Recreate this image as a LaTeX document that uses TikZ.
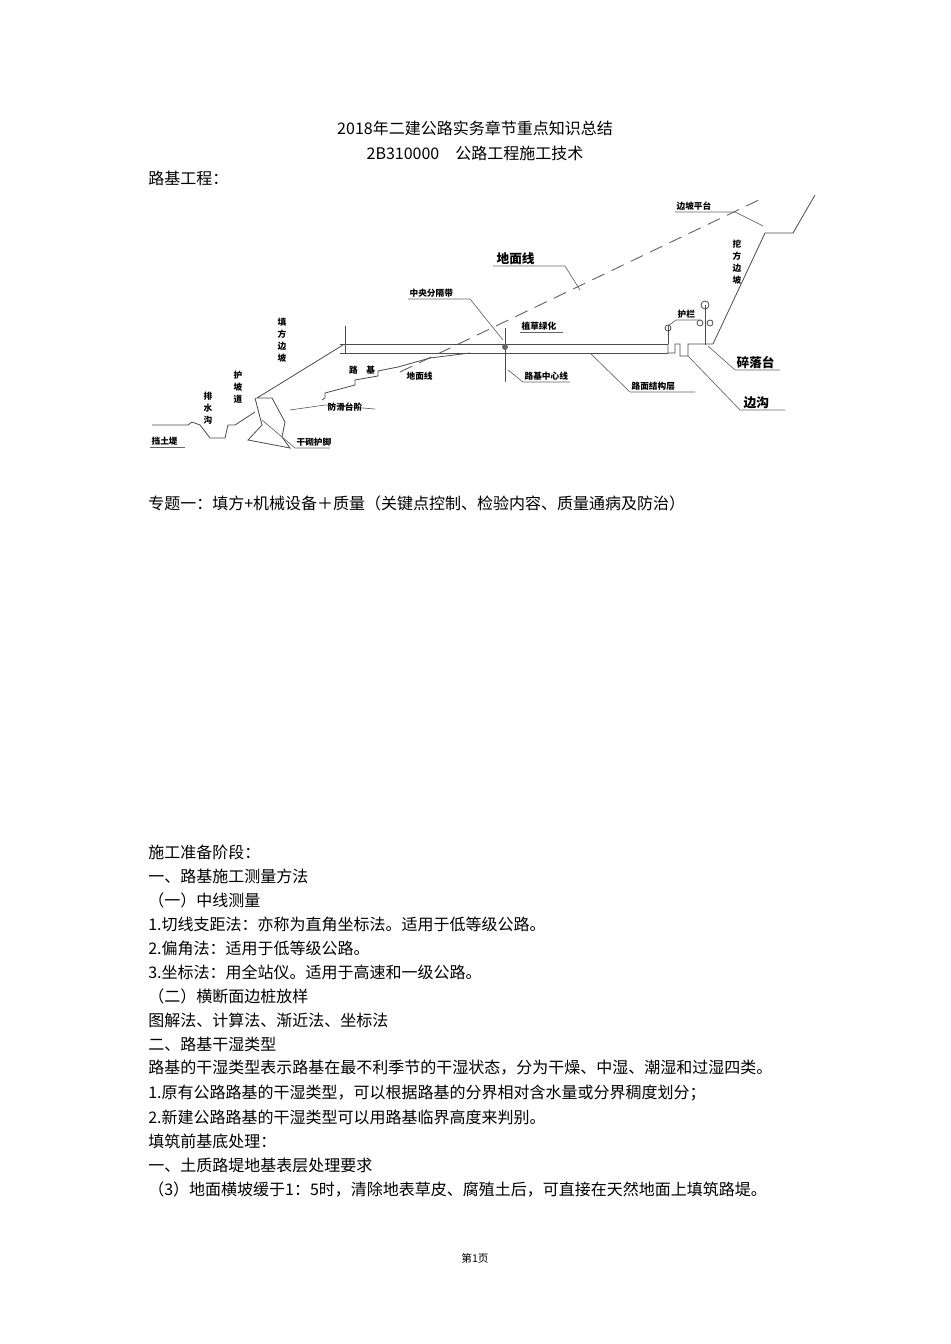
\documentclass[tikz,border=0pt]{standalone}
\usepackage{fontspec}
\setmainfont{Liberation Serif}
\newfontfamily\cjk{Noto Sans CJK SC}
\begin{document}
\begin{tikzpicture}[x=0.75pt,y=-0.75pt,
  body/.style={anchor=west,font=\cjk\fontsize{12}{13}\selectfont,inner sep=0},
  lab/.style={font=\cjk\bfseries\fontsize{6.5}{7}\selectfont,inner sep=1pt},
  labb/.style={font=\cjk\bfseries\fontsize{9.5}{10}\selectfont,inner sep=1pt},
  vlab/.style={font=\cjk\bfseries\fontsize{6.5}{9}\selectfont,align=center,inner sep=0},
  ln/.style={draw=black!70,line width=0.6pt},
  lead/.style={draw=black!60,line width=0.5pt}]
\useasboundingbox[fill=white] (0,0) rectangle (950,1344);
% header text
\node[font=\cjk\fontsize{12}{13}\selectfont] (t1) at (475,128) {2018年二建公路实务章节重点知识总结};
\node[font=\cjk\fontsize{12}{13}\selectfont] (t2) at (475,153) {2B310000\quad 公路工程施工技术};
\node[body] (t3) at (148,178) {路基工程：};
% ---- diagram ----
\draw[ln] (340,344) -- (668,344);
\draw[ln] (340,353) -- (668,353);
\draw[ln] (345,326) -- (345,353);
\draw[ln] (505,328) -- (505,382);
\fill[black!60] (505,347) circle (3);
\draw[ln] (668,344) -- (668,353) -- (675,353) -- (675,344) -- (680,344) -- (680,356) -- (688,356) -- (688,344) -- (713,344) -- (765,233) -- (793,233) -- (815,195);
\draw[ln] (668,344) -- (668,326);
\draw[ln] (668,328) circle (3);
\draw[ln] (705,345) -- (705,305);
\draw[ln] (705,305) circle (4);
\draw[ln] (700,323) circle (3) (710,323) circle (3);
\draw[draw=black!60,line width=0.7pt,dash pattern=on 10pt off 6pt] (400,372) -- (765,197);
\draw[ln] (343,345) -- (257,398) -- (272,398) -- (285,422) -- (282,437) -- (290,448) -- (248,440) -- (262,425) -- (255,398);
\draw[ln] (255,412) -- (235,425) -- (228,425) -- (225,438) -- (210,438) -- (200,425) -- (192,422) -- (188,425) -- (152,425);
\draw[ln] (322,400) -- (325,398) -- (325,393) -- (355,385) -- (355,380) -- (378,376) -- (378,371) -- (398,367) -- (430,358) -- (470,353);
% leaders
\draw[lead] (675,212) -- (735,212) -- (763,226);
\node[lab,anchor=south west] (bptt) at (675,212) {边坡平台};
\node[vlab] (wfbp) at (737,262) {挖\\方\\边\\坡};
\draw[lead] (493,266) -- (565,266) -- (580,290);
\node[labb,anchor=south west] (dmx1) at (495,266) {地面线};
\draw[lead] (408,299) -- (470,299) -- (503,340);
\node[lab,anchor=south west] (zyfgd) at (408,299) {中央分隔带};
\draw[lead] (520,332) -- (563,332);
\node[lab,anchor=south west] (zclh) at (520,332) {植草绿化};
\draw[lead] (668,326) -- (676,320) -- (700,320);
\node[lab,anchor=south west] (hl) at (676,320) {护栏};
\draw[lead] (708,346) -- (735,370) -- (780,370);
\node[labb,anchor=south west] (slt) at (735,370) {碎落台};
\draw[lead] (508,370) -- (523,382) -- (570,382);
\node[lab,anchor=south west] (ljzxx) at (523,382) {路基中心线};
\draw[lead] (590,353) -- (630,392) -- (695,392);
\node[lab,anchor=south west] (lmjgc) at (630,392) {路面结构层};
\draw[lead] (688,356) -- (740,410) -- (785,410);
\node[labb,anchor=south west] (bg) at (742,410) {边沟};
\node[vlab] (tfbp) at (282,340) {填\\方\\边\\坡};
\node[lab] (lj) at (362,370) {路\quad 基};
\node[lab,anchor=west] (dmx2) at (405,376) {地面线};
\draw[lead] (290,410) -- (325,405) -- (375,409);
\node[lab,anchor=south west] (fhtj) at (326,413) {防滑台阶};
\draw[lead] (262,420) -- (295,448) -- (330,448);
\node[lab,anchor=south west] (gqhj) at (295,448) {干砌护脚};
\node[vlab] (hpd) at (238,387) {护\\坡\\道};
\node[vlab] (psg) at (208,408) {排\\水\\沟};
\draw[lead] (150,447) -- (185,447);
\node[lab,anchor=south west] (dtd) at (150,447) {挡土堤};
% body text
\node[body] (p1) at (148,503) {专题一：填方+机械设备＋质量（关键点控制、检验内容、质量通病及防治）};
\node[body] (l1) at (148,852) {施工准备阶段：};
\node[body] (l2) at (148,876) {一、路基施工测量方法};
\node[body] (l3) at (148,900) {（一）中线测量};
\node[body] (l4) at (148,924) {1.切线支距法：亦称为直角坐标法。适用于低等级公路。};
\node[body] (l5) at (148,948) {2.偏角法：适用于低等级公路。};
\node[body] (l6) at (148,972) {3.坐标法：用全站仪。适用于高速和一级公路。};
\node[body] (l7) at (148,996) {（二）横断面边桩放样};
\node[body] (l8) at (148,1020) {图解法、计算法、渐近法、坐标法};
\node[body] (l9) at (148,1044) {二、路基干湿类型};
\node[body] (l10) at (148,1068) {路基的干湿类型表示路基在最不利季节的干湿状态，分为干燥、中湿、潮湿和过湿四类。};
\node[body] (l11) at (148,1093) {1.原有公路路基的干湿类型，可以根据路基的分界相对含水量或分界稠度划分；};
\node[body] (l12) at (148,1117) {2.新建公路路基的干湿类型可以用路基临界高度来判别。};
\node[body] (l13) at (148,1141) {填筑前基底处理：};
\node[body] (l14) at (148,1165) {一、土质路堤地基表层处理要求};
\node[body] (l15) at (148,1189) {（3）地面横坡缓于1：5时，清除地表草皮、腐殖土后，可直接在天然地面上填筑路堤。};
\node[font=\cjk\fontsize{8}{9}\selectfont] (pg) at (475,1258) {第1页};
\end{tikzpicture}
\end{document}
